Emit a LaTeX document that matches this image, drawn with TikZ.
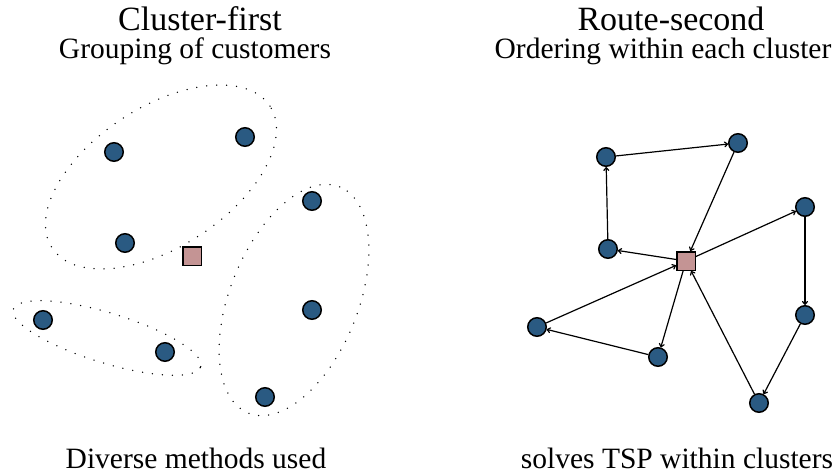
\documentclass[tikz,border=0pt]{standalone}
\usepackage{fontspec}
\setmainfont{Liberation Serif}
\usetikzlibrary{arrows.meta}
\definecolor{cust}{HTML}{2A5A82}
\definecolor{dep}{HTML}{C49494}
\begin{document}
\begin{tikzpicture}[x=1pt,y=-1pt,
 cnode/.style={circle,draw=black,fill=cust,line width=1.5pt,minimum size=18.5pt,inner sep=0pt},
 dnode/.style={rectangle,draw=black,fill=dep,line width=1.5pt,minimum size=18.5pt,inner sep=0pt},
 grp/.style={line width=1.5pt,dash pattern=on 0pt off 10pt,line cap=round},
 edge/.style={-{To[length=4pt,width=6pt]},line width=1.2pt},
 ttl/.style={anchor=base,inner sep=0pt,font=\fontsize{34}{37}\selectfont},
 sbt/.style={anchor=base,inner sep=0pt,font=\fontsize{29.5}{32}\selectfont}]
\useasboundingbox (0,0) rectangle (835,473);

% titles
\node[ttl] (t1) at (200,31) {Cluster-first};
\node[sbt] (s1) at (195,59) {Grouping of customers};
\node[sbt] (b1) at (196,468) {Diverse methods used};
\node[ttl] (t2) at (671,31) {Route-second};
\node[sbt] (s2) at (663,59) {Ordering within each cluster};
\node[sbt] (b2) at (677,468) {solves TSP within clusters};

% left: clusters
\draw[grp,rotate around={33:(161,177)}] (161,177) ellipse [x radius=130pt, y radius=70pt];
\draw[grp,rotate around={68:(294,300)}] (294,300) ellipse [x radius=122pt, y radius=64pt];
\draw[grp,rotate around={-17:(107,338)}] (107,338) ellipse [x radius=98pt, y radius=25pt];

\node[cnode] (la) at (114,152) {};
\node[cnode] (lb) at (245,137) {};
\node[cnode] (lc) at (312,201) {};
\node[cnode] (ld) at (125,243) {};
\node[dnode] (ldep) at (192,256) {};
\node[cnode] (le) at (312,310) {};
\node[cnode] (lf) at (43,320) {};
\node[cnode] (lg) at (165,352) {};
\node[cnode] (lh) at (265,397) {};

% right: routes
\node[cnode] (ra) at (606,157) {};
\node[cnode] (rb) at (738,143) {};
\node[cnode] (rc) at (805,207) {};
\node[cnode] (rd) at (608,249) {};
\node[dnode] (rdep) at (686,261) {};
\node[cnode] (re) at (805,315) {};
\node[cnode] (rf) at (537,327) {};
\node[cnode] (rg) at (658,357) {};
\node[cnode] (rh) at (759,403) {};

\draw[edge] (rdep) -- (rd);
\draw[edge] (rd) -- (ra);
\draw[edge] (ra) -- (rb);
\draw[edge] (rb) -- (rdep);
\draw[edge] (rdep) -- (rc);
\draw[edge] (rc) -- (re);
\draw[edge] (re) -- (rh);
\draw[edge] (rh) -- (rdep);
\draw[edge] (rdep) -- (rg);
\draw[edge] (rg) -- (rf);
\draw[edge] (rf) -- (rdep);
\end{tikzpicture}
\end{document}
